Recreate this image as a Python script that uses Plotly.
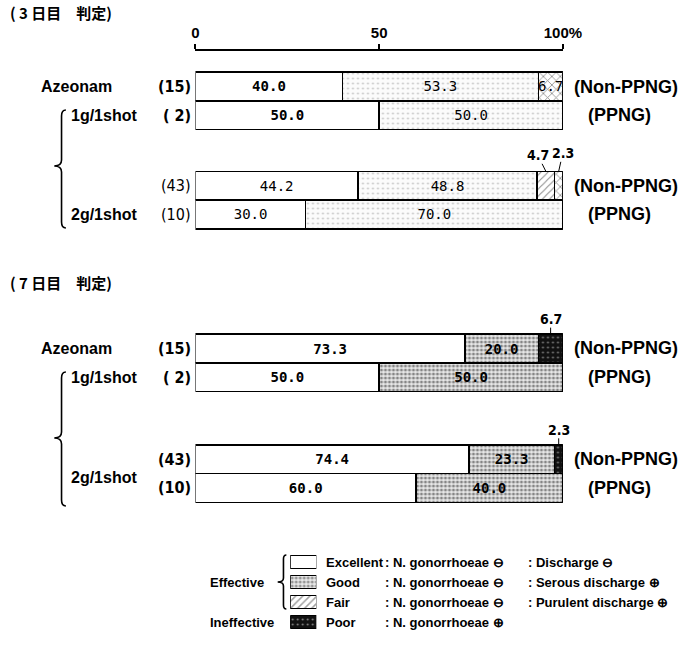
import plotly.graph_objects as go

W, H = 697, 651

# ---------------- data ----------------
categories = ["Excellent", "Good", "Fair", "Poor"]
row_counts = ["(15)", "( 2)", "(43)", "(10)"]
row_types = ["(Non-PPNG)", "(PPNG)", "(Non-PPNG)", "(PPNG)"]
group_labels = ["Azeonam", "1g/1shot", "2g/1shot"]

day3_excellent = [40.0, 50.0, 44.2, 30.0]
day3_good = [53.3, 50.0, 48.8, 70.0]
day3_fair = [0.0, 0.0, 4.7, 0.0]
day3_poor = [6.7, 0.0, 2.3, 0.0]

day7_excellent = [73.3, 50.0, 74.4, 60.0]
day7_good = [20.0, 50.0, 23.3, 40.0]
day7_fair = [0.0, 0.0, 0.0, 0.0]
day7_poor = [6.7, 0.0, 2.3, 0.0]

x_ticks = [0, 50, 100]
x_tick_labels = ["0", "50", "100%"]

legend_desc1 = [": N. gonorrhoeae ⊖", ": N. gonorrhoeae ⊖", ": N. gonorrhoeae ⊖", ": N. gonorrhoeae ⊕"]
legend_desc2 = [": Discharge ⊖", ": Serous discharge ⊕", ": Purulent discharge ⊕", ""]

# ---------------- layout helpers ----------------
def px(xp):
    return xp / W

def py(yp):
    return 1 - yp / H

ROW_POS3 = [0, 1, 3.45, 4.45]
ROW_POS7 = [0, 1, 3.85, 4.85]
UNIT = 28.75  # px per row unit

LBL = "Liberation Sans, Arial, sans-serif"
NARROW = "Liberation Sans Narrow, Arial Narrow, DejaVu Sans Condensed, Liberation Sans, sans-serif"
MONO = "DejaVu Sans Mono, Liberation Mono, monospace"
CJK = "Noto Sans CJK JP, Noto Sans CJK SC, sans-serif"

styles_day3 = {
    "Excellent": dict(color="white", pattern=dict(shape="")),
    "Good": dict(color="white", pattern=dict(shape=".", fgcolor="#8a8a8a", bgcolor="#fbfbfb", size=5, solidity=0.12)),
    "Fair": dict(color="white", pattern=dict(shape="/", fgcolor="#111", bgcolor="white", size=5, solidity=0.2)),
    "Poor": dict(color="white", pattern=dict(shape="x", fgcolor="#111", bgcolor="white", size=6, solidity=0.25)),
}
styles_day7 = {
    "Excellent": dict(color="white", pattern=dict(shape="")),
    "Good": dict(color="#b0b0b0", pattern=dict(shape=".", fgcolor="#222", bgcolor="#e8e8e8", size=4, solidity=0.45)),
    "Fair": dict(color="white", pattern=dict(shape="/", fgcolor="#111", bgcolor="white", size=5, solidity=0.2)),
    "Poor": dict(color="#111", pattern=dict(shape=".", fgcolor="#eee", bgcolor="#111", size=5, solidity=0.12)),
}

fig = go.Figure()


def add_panel(series, pos, xa, ya, styles, threshold, weights):
    for cat, vals in zip(categories, series):
        texts = [f"{v:.1f}" if v >= threshold else "" for v in vals]
        fig.add_trace(go.Bar(
            x=vals, y=pos, orientation="h", width=1.0,
            xaxis=xa, yaxis=ya, name=cat,
            marker=dict(color=styles[cat]["color"], pattern=styles[cat]["pattern"],
                        line=dict(color="black", width=1.5)),
            text=texts, textposition="inside", insidetextanchor="middle",
            constraintext="none", textangle=0,
            textfont=dict(family=MONO, size=14, color="black", weight=weights[cat]),
            showlegend=False, hoverinfo="skip",
        ))


add_panel([day3_excellent, day3_good, day3_fair, day3_poor], ROW_POS3, "x", "y", styles_day3, 5,
          {"Excellent": ["bold", "bold", "normal", "normal"], "Good": "normal", "Fair": "normal", "Poor": "normal"})
add_panel([day7_excellent, day7_good, day7_fair, day7_poor], ROW_POS7, "x2", "y2", styles_day7, 10,
          {"Excellent": "bold", "Good": "bold", "Fair": "bold", "Poor": "bold"})

# legend key swatches
fig.add_trace(go.Bar(
    x=[1, 1, 1, 1], y=[0, 1, 2, 3], orientation="h", width=0.64,
    xaxis="x3", yaxis="y3",
    marker=dict(
        color=["white", "#e8e8e8", "white", "#111"],
        pattern=dict(shape=["", ".", "/", "."],
                     fgcolor=["black", "#222", "#111", "#eee"],
                     bgcolor=["white", "#e8e8e8", "white", "#111"],
                     size=[5, 4, 5, 5], solidity=[0.2, 0.45, 0.3, 0.12]),
        line=dict(color="black", width=1.3)),
    showlegend=False, hoverinfo="skip",
))

annotations = []

# callouts for small segments
def callouts(series, pos, xa, ya, threshold, offsets):
    for ci, (cat, vals) in enumerate(zip(categories, series)):
        for ri, v in enumerate(vals):
            if 0 < v < threshold:
                left = sum(s[ri] for s in series[:ci])
                ax, ay = offsets.get((ri, cat), (0, -15))
                annotations.append(dict(
                    x=left + v / 2, y=pos[ri] - 0.5, xref=xa, yref=ya,
                    text=f"{v:.1f}", showarrow=True, arrowhead=0, arrowwidth=1,
                    arrowcolor="black", ax=ax, ay=ay, borderpad=0,
                    font=dict(family=NARROW, size=14, color="black", weight="bold")))

callouts([day3_excellent, day3_good, day3_fair, day3_poor], ROW_POS3, "x", "y", 5,
         {(2, "Fair"): (-8, -16), (2, "Poor"): (4, -18)})
callouts([day7_excellent, day7_good, day7_fair, day7_poor], ROW_POS7, "x2", "y2", 10, {})


def label(x, y, yref, text, anchor, font):
    annotations.append(dict(x=px(x), y=y, xref="paper", yref=yref, xanchor=anchor,
                            yanchor="middle", text=text, showarrow=False, font=font))


# row labels
for ya, pos, g2y, wts in [("y", ROW_POS3, ROW_POS3[3], ["bold", "bold", "normal", "normal"]),
                          ("y2", ROW_POS7, (ROW_POS7[2] + ROW_POS7[3]) / 2 + 0.15, ["bold"] * 4)]:
    GF = dict(family=LBL, size=16, color="black", weight="bold")
    label(36, pos[0], ya, group_labels[0], "left", GF)
    label(67, pos[1], ya, group_labels[1], "left", GF)
    label(67, g2y, ya, group_labels[2], "left", GF)
    for i in range(4):
        label(195, pos[i], ya, row_counts[i], "right",
              dict(family=NARROW, size=16, color="black", weight=wts[i]))
        RF = dict(family=LBL, size=18, color="black", weight="bold")
        if row_types[i] == "(PPNG)":
            label(637, pos[i], ya, row_types[i], "center", RF)
        else:
            label(587, pos[i], ya, row_types[i], "left", RF)

# panel titles
TF = dict(family=CJK, size=15, color="black", weight="bold")
label(4, py(13), "paper", "( 3 日目　判定)", "left", TF)
label(4, py(282), "paper", "( 7 日目　判定)", "left", TF)

# legend key texts
LF = dict(family=LBL, size=13, color="black", weight="bold")
for i, cat in enumerate(categories):
    label(331, i, "y3", cat, "left", LF)
    label(392, i, "y3", legend_desc1[i], "left", LF)
    if legend_desc2[i]:
        label(540, i, "y3", legend_desc2[i], "left", LF)
label(271, 1, "y3", "Effective", "right", LF)
label(281, 3, "y3", "Ineffective", "right", LF)


def brace(xr, xl, yt, yb, ym, r=6):
    xm = (xr + xl) / 2 + 1.5
    pts = [
        f"M {px(xr)},{py(yt)}",
        f"Q {px(xm)},{py(yt)} {px(xm)},{py(yt + r)}",
        f"L {px(xm)},{py(ym - r)}",
        f"Q {px(xm)},{py(ym)} {px(xl)},{py(ym)}",
        f"Q {px(xm)},{py(ym)} {px(xm)},{py(ym + r)}",
        f"L {px(xm)},{py(yb - r)}",
        f"Q {px(xm)},{py(yb)} {px(xr)},{py(yb)}",
    ]
    return dict(type="path", xref="paper", yref="paper", path=" ".join(pts),
                line=dict(color="black", width=1.6))

# legend rows: centre of first row and spacing (px)
LEG_ROW0, LEG_STEP = 562, 20

shapes = [
    brace(64, 52, 110, 228, 166),
    brace(64, 52, 372, 506, 438),
    brace(292, 283, LEG_ROW0 - 7, LEG_ROW0 + 2 * LEG_STEP + 7, LEG_ROW0 + LEG_STEP, r=4),
]

# y ranges: row 0 centred at given pixel
def yrange(top_px, bot_px, row0_px, unit=UNIT):
    top_v = -(row0_px - top_px) / unit
    return [top_v + (bot_px - top_px) / unit, top_v]

fig.update_layout(
    width=W, height=H, autosize=False,
    margin=dict(l=0, r=0, t=0, b=0, pad=0),
    paper_bgcolor="white", plot_bgcolor="white",
    barmode="stack", showlegend=False,
    xaxis=dict(domain=[px(198), px(578)], range=[0, 100], side="top", anchor="y",
               showline=True, linecolor="black", linewidth=1.5,
               ticks="outside", ticklen=5, tickwidth=1.5, tickcolor="black",
               tickvals=x_ticks, ticktext=x_tick_labels,
               tickfont=dict(family=LBL, size=15, color="black", weight="bold"),
               showgrid=False, zeroline=False, fixedrange=True),
    yaxis=dict(domain=[py(240), py(51)], range=yrange(51, 240, 86.5), visible=False, fixedrange=True),
    xaxis2=dict(domain=[px(198), px(578)], range=[0, 100], anchor="y2", visible=False, fixedrange=True),
    yaxis2=dict(domain=[py(515), py(320)], range=yrange(320, 515, 348.5), visible=False, fixedrange=True),
    xaxis3=dict(domain=[px(296), px(323)], range=[0, 1], anchor="y3", visible=False, fixedrange=True),
    yaxis3=dict(domain=[py(LEG_ROW0 + 3.5 * LEG_STEP), py(LEG_ROW0 - 0.5 * LEG_STEP)],
                range=[3.5, -0.5], visible=False, fixedrange=True),
    annotations=annotations,
    shapes=shapes,
)

fig.write_html("out.html",
               config={"displayModeBar": False, "responsive": False},
               post_script="document.body.style.margin='0';document.body.style.overflow='hidden';")
